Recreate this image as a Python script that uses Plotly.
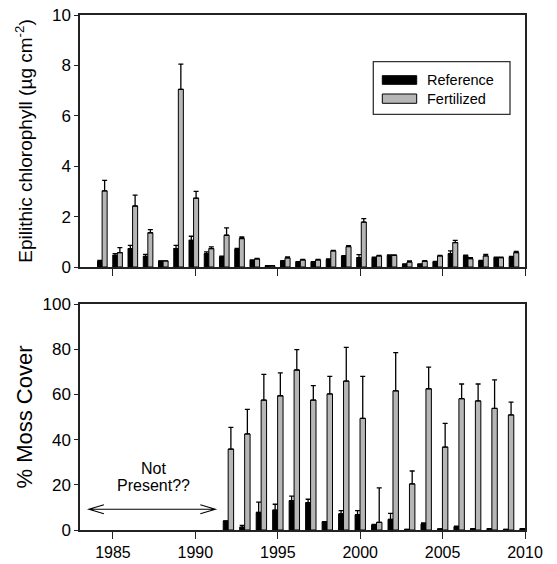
import plotly.graph_objects as go
from plotly.subplots import make_subplots

# ---------------- data ----------------
chl_years = list(range(1983, 2011))
chl_reference = [0.23, 0.46, 0.73, 0.42, 0.24, 0.73, 1.06, 0.53, 0.40, 0.70,
                 0.26, 0.05, 0.23, 0.19, 0.19, 0.30, 0.42, 0.37, 0.37, 0.46,
                 0.11, 0.11, 0.20, 0.53, 0.45, 0.24, 0.37, 0.40]
chl_reference_err = [0.03, 0.07, 0.13, 0.08, 0.00, 0.13, 0.16, 0.07, 0.03, 0.04,
                     0.02, 0.00, 0.02, 0.02, 0.02, 0.02, 0.03, 0.12, 0.02, 0.02,
                     0.01, 0.01, 0.02, 0.11, 0.02, 0.02, 0.02, 0.02]
chl_fertilized = [3.02, 0.57, 2.42, 1.36, 0.24, 7.05, 2.73, 0.73, 1.26, 1.13,
                  0.32, 0.05, 0.36, 0.28, 0.28, 0.64, 0.81, 1.78, 0.44, 0.46,
                  0.20, 0.23, 0.44, 0.97, 0.33, 0.44, 0.37, 0.57]
chl_fertilized_err = [0.42, 0.20, 0.43, 0.12, 0.00, 1.00, 0.27, 0.07, 0.29, 0.06,
                      0.02, 0.00, 0.04, 0.02, 0.02, 0.02, 0.04, 0.14, 0.02, 0.02,
                      0.04, 0.02, 0.02, 0.09, 0.04, 0.06, 0.02, 0.05]

moss_years = list(range(1992, 2011))
moss_reference = [4.0, 1.2, 7.8, 8.8, 13.0, 12.1, 3.7, 7.1, 6.8, 2.2,
                  4.7, 0.3, 2.7, 0.5, 1.5, 0.6, 0.6, 0.3, 0.6]
moss_reference_err = [0.0, 0.8, 4.5, 2.6, 2.0, 1.5, 0.0, 1.5, 1.8, 0.3,
                      2.7, 0.0, 0.4, 0.0, 0.2, 0.0, 0.0, 0.0, 0.0]
moss_fertilized = [35.8, 42.5, 57.5, 59.4, 70.8, 57.5, 60.2, 65.9, 49.4, 3.4,
                   61.6, 20.4, 62.5, 36.7, 58.1, 57.1, 53.8, 50.9, 0.0]
moss_fertilized_err = [9.6, 10.9, 11.4, 10.1, 9.0, 6.4, 7.8, 14.9, 18.6, 15.2,
                       16.9, 5.7, 9.6, 10.5, 6.5, 7.5, 12.6, 5.7, 0.0]

tick_years = [1985, 1990, 1995, 2000, 2005, 2010]
series_names = ["Reference", "Fertilized"]

# ---------------- layout geometry ----------------
W, H = 557, 564
ML, MR, MT, MB = 80, 32, 15, 34
PW, PH = W - ML - MR, H - MT - MB
FONT = "Liberation Sans, Arial, sans-serif"
GRAY = "#b6b6b6"
AXC = "#222222"


def px_x(p):
    return (p - ML) / PW


def px_y(p):
    return (H - MB - p) / PH


B0, B1 = 1983, 2010          # bottom x range
T0, T1 = 1981.54, 2010.73    # top x range (bars drawn a bit tighter)
top_tickvals = [T0 + (y - B0) / (B1 - B0) * (T1 - T0) for y in tick_years]

fig = make_subplots(rows=2, cols=1, shared_xaxes=False, vertical_spacing=0.0)

REF_W, FERT_W = 0.30, 0.33
REF_OFF, FERT_OFF = -0.31, -0.01


def err(arr, cap):
    return dict(type="data", array=arr, arrayminus=[0] * len(arr), symmetric=False,
                color="black", thickness=1.3, width=cap, visible=True)


for row, xs, ref, ref_e, fert, fert_e in [
    (1, chl_years, chl_reference, chl_reference_err, chl_fertilized, chl_fertilized_err),
    (2, moss_years, moss_reference, moss_reference_err, moss_fertilized, moss_fertilized_err),
]:
    fig.add_trace(go.Bar(x=xs, y=ref, name=series_names[0], width=REF_W, offset=REF_OFF,
                         marker=dict(color="black", line=dict(color="black", width=1)),
                         error_y=err(ref_e, 2.5), showlegend=False), row=row, col=1)
    fig.add_trace(go.Bar(x=xs, y=fert, name=series_names[1], width=FERT_W, offset=FERT_OFF,
                         marker=dict(color=GRAY, line=dict(color="black", width=1)),
                         error_y=err(fert_e, 2.5), showlegend=False), row=row, col=1)

axis_common = dict(showline=True, mirror=True, linecolor=AXC, linewidth=1.5,
                   showgrid=False, zeroline=False, ticks="outside", tickcolor=AXC,
                   tickfont=dict(family=FONT, size=16, color="black"))

fig.update_xaxes(axis_common)
fig.update_yaxes(axis_common)

fig.update_xaxes(range=[T0, T1], tickvals=top_tickvals, showticklabels=False,
                 ticklen=7, row=1, col=1)
fig.update_xaxes(range=[B0, B1], tickvals=tick_years, ticklen=7, row=2, col=1)
fig.update_yaxes(range=[0, 10], dtick=2, ticklen=4, tickfont=dict(size=17),
                 title=dict(text="Epilithic chlorophyll (µg cm<sup>-2</sup>)",
                            font=dict(family=FONT, size=19, color="black"), standoff=14),
                 row=1, col=1)
fig.update_yaxes(range=[0, 100], dtick=20, ticklen=4, tickfont=dict(size=17),
                 title=dict(text="% Moss Cover",
                            font=dict(family=FONT, size=22, color="black"), standoff=4),
                 row=2, col=1)

fig.update_layout(
    width=W, height=H, barmode="overlay",
    margin=dict(l=ML, r=MR, t=MT, b=MB, autoexpand=False),
    paper_bgcolor="white", plot_bgcolor="white",
    font=dict(family=FONT, color="black"),
    showlegend=False,
)
fig.layout.yaxis.domain = [px_y(267), 1.0]
fig.layout.yaxis2.domain = [0.0, px_y(304)]

# ---------------- legend (drawn box) ----------------
shapes = [
    dict(type="rect", xref="paper", yref="paper", x0=px_x(373.3), x1=px_x(510),
         y0=px_y(114.3), y1=px_y(61.7), line=dict(color="#333333", width=1.3),
         fillcolor="white"),
    dict(type="rect", xref="paper", yref="paper", x0=px_x(382.3), x1=px_x(416.7),
         y0=px_y(84.3), y1=px_y(75.7), line=dict(color="black", width=1), fillcolor="black"),
    dict(type="rect", xref="paper", yref="paper", x0=px_x(382.3), x1=px_x(416.7),
         y0=px_y(103.3), y1=px_y(94), line=dict(color="black", width=1), fillcolor=GRAY),
    # double-headed arrow for "Not Present??"
    dict(type="path", xref="x2", yref="y2",
         path="M 1983.54 9.2 L 1991.21 9.2 "
              "M 1984.45 11.2 L 1983.54 9.2 L 1984.45 7.2 "
              "M 1990.30 11.2 L 1991.21 9.2 L 1990.30 7.2",
         line=dict(color="black", width=1.1)),
]
annotations = [
    dict(text=series_names[0], xref="paper", yref="paper", x=px_x(425), y=px_y(80),
         xanchor="left", yanchor="middle", showarrow=False,
         font=dict(family=FONT, size=14.5, color="black")),
    dict(text=series_names[1], xref="paper", yref="paper", x=px_x(425), y=px_y(98.7),
         xanchor="left", yanchor="middle", showarrow=False,
         font=dict(family=FONT, size=14.5, color="black")),
    dict(text="Not", xref="x2", yref="y2", x=1987.48, y=27.3,
         xanchor="center", yanchor="middle", showarrow=False,
         font=dict(family=FONT, size=16, color="black")),
    dict(text="Present??", xref="x2", yref="y2", x=1987.48, y=19.8,
         xanchor="center", yanchor="middle", showarrow=False,
         font=dict(family=FONT, size=16, color="black")),
]
fig.update_layout(shapes=shapes, annotations=annotations)

fig.write_html("out.html", config={"displayModeBar": False},
               post_script="document.body.style.margin='0';document.body.style.overflow='hidden';")
